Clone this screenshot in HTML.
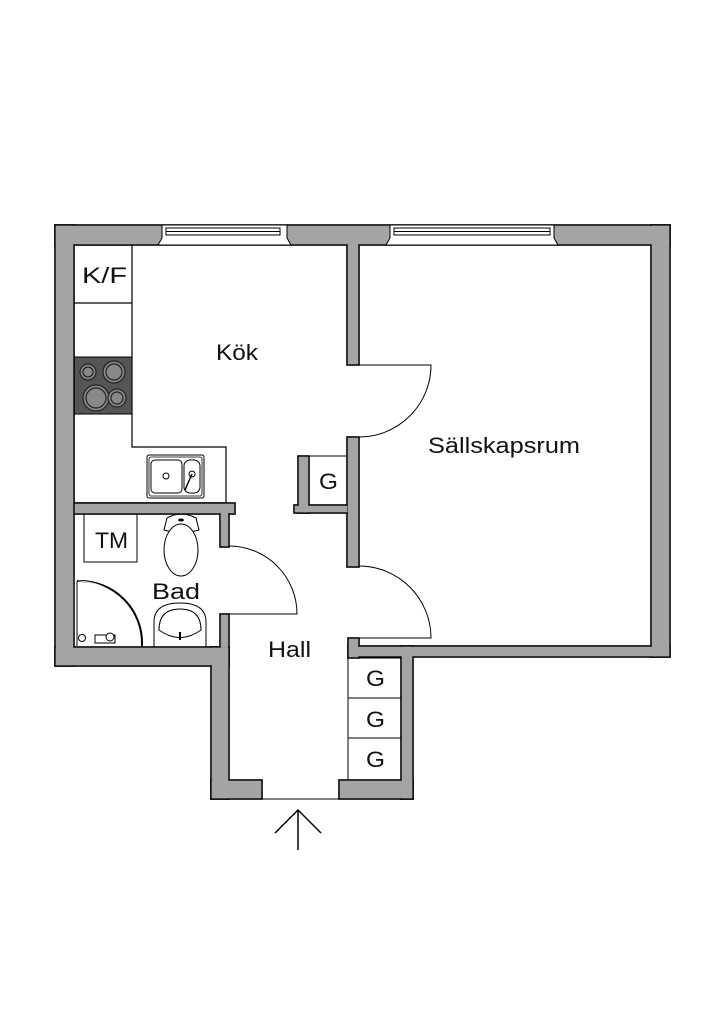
<!DOCTYPE html>
<html><head><meta charset="utf-8"><style>
html,body{margin:0;padding:0;background:#fff;}
svg{display:block;}
text{font-family:"Liberation Sans","DejaVu Sans",sans-serif;fill:#111;}
</style></head><body>
<svg width="724" height="1024" viewBox="0 0 724 1024" xmlns="http://www.w3.org/2000/svg">
<rect width="724" height="1024" fill="#fff"/>
<path d="M74,245 H132 V447 H226 V503 H74 Z" fill="#fff" stroke="#000" stroke-width="1.2"/>
<line x1="74" y1="303" x2="132" y2="303" stroke="#000" stroke-width="1.2"/>
<rect x="74" y="357" width="58" height="57" fill="#555" stroke="#000"/>
<g fill="#888" stroke="#222" stroke-width="1.2">
<circle cx="88" cy="372" r="8"/><circle cx="88" cy="372" r="5"/>
<circle cx="114" cy="372" r="11"/><circle cx="114" cy="372" r="8"/>
<circle cx="96" cy="398" r="13"/><circle cx="96" cy="398" r="10"/>
<circle cx="117" cy="398" r="9"/><circle cx="117" cy="398" r="6"/>
</g>
<rect x="147" y="455" width="57" height="43" rx="2" fill="#fff" stroke="#000"/>
<rect x="149" y="457" width="53" height="39" rx="2" fill="none" stroke="#000" stroke-width="0.8"/>
<rect x="151" y="460" width="31" height="33" rx="4" fill="none" stroke="#000"/>
<rect x="184" y="460" width="16" height="33" rx="6" fill="none" stroke="#000"/>
<circle cx="166" cy="476" r="3" fill="none" stroke="#000"/>
<circle cx="192" cy="474" r="3" fill="none" stroke="#000"/>
<line x1="192" y1="474" x2="185" y2="490" stroke="#000" stroke-width="1.5"/>
<rect x="309" y="456" width="38" height="49" fill="#fff" stroke="#000"/>
<rect x="84" y="514" width="53" height="48" fill="#fff" stroke="#000"/>
<path d="M167,518 Q181,510 196,518 L199,530 Q181,535 164,530 Z" fill="#fff" stroke="#000"/>
<ellipse cx="181" cy="550" rx="17" ry="26" fill="#fff" stroke="#000"/>
<ellipse cx="181" cy="520" rx="3" ry="1.5" fill="#000"/>
<path d="M154,647 V622 Q154,603 180,603 Q206,603 206,622 V647" fill="#fff" stroke="#000"/>
<path d="M159,630 Q159,609 180,609 Q201,609 201,630 Q180,645 159,630 Z" fill="none" stroke="#000"/>
<line x1="180" y1="632" x2="180" y2="640" stroke="#000" stroke-width="2"/>
<line x1="77" y1="581" x2="77" y2="646" stroke="#000" stroke-width="1"/>
<path d="M77,581 H80 A62,62 0 0 1 142,643 V647" fill="none" stroke="#000" stroke-width="2"/>
<path d="M78,581 A63,63 0 0 1 140,644" fill="none" stroke="#fff" stroke-width="0.8"/>
<circle cx="82" cy="638" r="3.5" fill="none" stroke="#000"/>
<rect x="95" y="635" width="20" height="8" fill="#fff" stroke="#000"/>
<circle cx="110" cy="637" r="4" fill="#fff" stroke="#000"/>
<g fill="none" stroke="#000" stroke-width="1">
<path d="M359,365 H431 A72,72 0 0 1 359,437"/>
<path d="M359,566 A72,72 0 0 1 431,638 H359"/>
<path d="M229,546 A68,68 0 0 1 297,614 H229"/>
</g>
<g fill="#fff" stroke="#000">
<rect x="348" y="658" width="53" height="40"/>
<rect x="348" y="698" width="53" height="40"/>
<rect x="348" y="738" width="53" height="42"/>
</g>
<g fill="#a4a4a4" stroke="#000" stroke-width="1.6">
<rect x="55" y="225" width="615" height="20"/>
<rect x="55" y="225" width="19" height="441"/>
<rect x="651" y="225" width="19" height="432"/>
<rect x="348" y="646" width="322" height="11"/>
<rect x="55" y="647" width="174" height="19"/>
<rect x="211" y="647" width="18" height="152"/>
<rect x="211" y="780" width="51" height="19"/>
<rect x="339" y="780" width="74" height="19"/>
<rect x="401" y="646" width="12" height="153"/>
<rect x="348" y="638" width="11" height="20"/>
<rect x="347" y="245" width="12" height="120"/>
<rect x="347" y="437" width="12" height="130"/>
<rect x="74" y="503" width="161" height="11"/>
<rect x="220" y="513" width="9" height="34"/>
<rect x="220" y="614" width="9" height="33"/>
<rect x="298" y="456" width="11" height="57"/>
<rect x="294" y="505" width="54" height="8"/>
</g>
<g fill="#a4a4a4">
<rect x="55.8" y="225.8" width="613.4" height="18.4"/>
<rect x="55.8" y="225.8" width="17.4" height="439.4"/>
<rect x="651.8" y="225.8" width="17.4" height="430.4"/>
<rect x="348.8" y="646.8" width="320.4" height="9.4"/>
<rect x="55.8" y="647.8" width="172.4" height="17.4"/>
<rect x="211.8" y="647.8" width="16.4" height="150.4"/>
<rect x="211.8" y="780.8" width="49.4" height="17.4"/>
<rect x="339.8" y="780.8" width="72.4" height="17.4"/>
<rect x="401.8" y="646.8" width="10.4" height="151.4"/>
<rect x="348.8" y="638.8" width="9.4" height="18.4"/>
<rect x="347.8" y="244" width="10.4" height="120.2"/>
<rect x="347.8" y="437.8" width="10.4" height="128.4"/>
<rect x="74.8" y="503.8" width="159.4" height="9.4"/>
<rect x="220.8" y="512" width="7.4" height="34.2"/>
<rect x="220.8" y="614.8" width="7.4" height="33"/>
<rect x="298.8" y="456.8" width="9.4" height="55.4"/>
<rect x="294.8" y="505.8" width="52.4" height="6.4"/>
</g>
<line x1="262" y1="799" x2="339" y2="799" stroke="#000" stroke-width="1"/>
<g stroke="#000" stroke-width="1" fill="#fff">
<path d="M162,225 H287 V238 L291,245 H158 L162,238 Z"/>
<rect x="166" y="228" width="114" height="7" fill="none"/>
<line x1="166" y1="231.5" x2="280" y2="231.5"/>
<path d="M390,225 H554 V238 L558,245 H386 L390,238 Z"/>
<rect x="394" y="228" width="156" height="7" fill="none"/>
<line x1="394" y1="231.5" x2="550" y2="231.5"/>
</g>
<g stroke="#000" stroke-width="1.5" fill="none">
<line x1="298" y1="810" x2="298" y2="850"/>
<polyline points="275,833 298,810 321,833"/>
</g>
<g font-size="22" lengthAdjust="spacingAndGlyphs">
<text x="82" y="283" textLength="45" lengthAdjust="spacingAndGlyphs">K/F</text>
<text x="216" y="360" textLength="42" lengthAdjust="spacingAndGlyphs">Kök</text>
<text x="428" y="453" textLength="152" lengthAdjust="spacingAndGlyphs">Sällskapsrum</text>
<text x="319" y="489" textLength="19" lengthAdjust="spacingAndGlyphs">G</text>
<text x="95" y="548" textLength="33" lengthAdjust="spacingAndGlyphs">TM</text>
<text x="152" y="599" textLength="48" lengthAdjust="spacingAndGlyphs">Bad</text>
<text x="268" y="657" textLength="43" lengthAdjust="spacingAndGlyphs">Hall</text>
<text x="366" y="686" textLength="19" lengthAdjust="spacingAndGlyphs">G</text>
<text x="366" y="727" textLength="19" lengthAdjust="spacingAndGlyphs">G</text>
<text x="366" y="767" textLength="19" lengthAdjust="spacingAndGlyphs">G</text>
</g>
</svg>
</body></html>
